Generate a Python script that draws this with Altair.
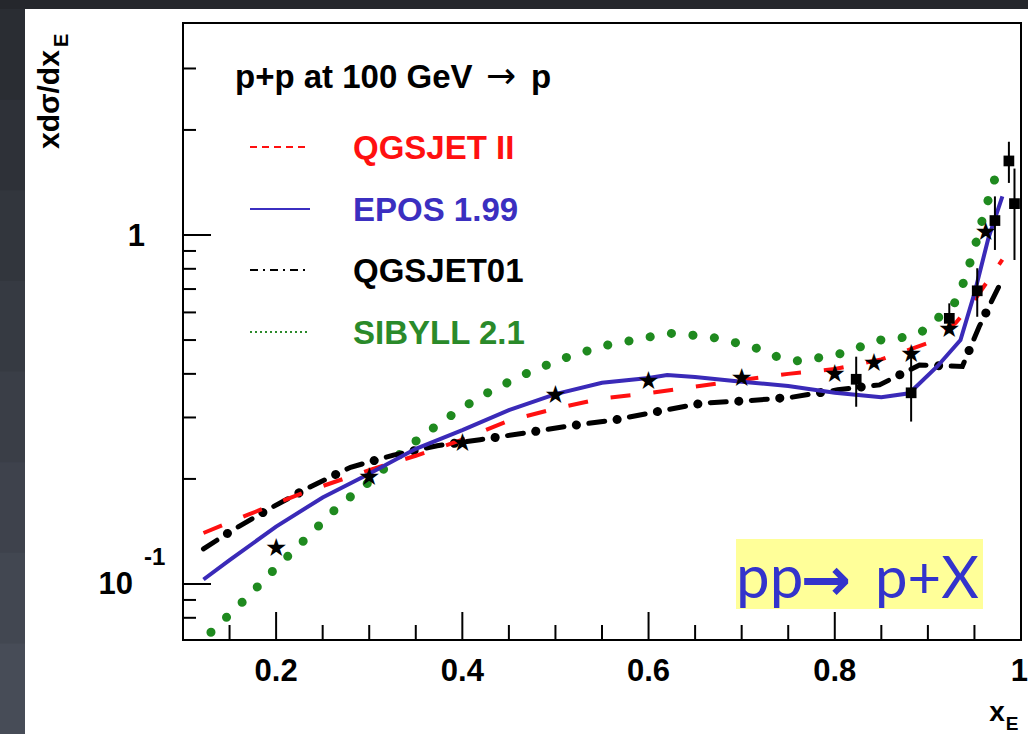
import altair as alt
import pandas as pd

W, H = 838, 617
FONT = "Liberation Sans"

x_dom = [0.1, 1.0]
y_dom = [0.0691, 4.05]

# ---- model curves ----
qgs2_x = [0.122, 0.17, 0.23, 0.3, 0.35, 0.4, 0.45, 0.5, 0.55, 0.6, 0.65, 0.7, 0.75, 0.8, 0.85, 0.9, 0.93, 0.95, 0.98]
qgs2_y = [0.140, 0.158, 0.183, 0.212, 0.233, 0.259, 0.294, 0.318, 0.34, 0.352, 0.368, 0.384, 0.40, 0.413, 0.44, 0.49, 0.56, 0.65, 0.85]

epos_x = [0.122, 0.15, 0.2, 0.25, 0.3, 0.35, 0.4, 0.45, 0.5, 0.55, 0.6, 0.62, 0.65, 0.7, 0.75, 0.8, 0.85, 0.88, 0.91, 0.935, 0.95, 0.965, 0.98]
epos_y = [0.103, 0.117, 0.146, 0.177, 0.207, 0.244, 0.276, 0.315, 0.35, 0.377, 0.389, 0.397, 0.392, 0.38, 0.369, 0.353, 0.343, 0.352, 0.42, 0.50, 0.68, 0.98, 1.29]

qgs01_x = [0.122, 0.152, 0.194, 0.237, 0.28, 0.326, 0.373, 0.419, 0.468, 0.516, 0.563, 0.61, 0.658, 0.706, 0.754, 0.803, 0.848, 0.891, 0.937, 0.955, 0.977]
qgs01_y = [0.126, 0.142, 0.165, 0.190, 0.216, 0.234, 0.249, 0.259, 0.271, 0.284, 0.295, 0.312, 0.330, 0.335, 0.343, 0.360, 0.372, 0.424, 0.42, 0.546, 0.719]

sib_x = [0.13, 0.165, 0.198, 0.232, 0.267, 0.305, 0.34, 0.378, 0.419, 0.461, 0.505, 0.551, 0.599, 0.622, 0.646, 0.67, 0.694, 0.717, 0.738, 0.762, 0.785, 0.808, 0.831, 0.855, 0.878, 0.899, 0.916, 0.932, 0.948, 0.961, 0.975]
sib_y = [0.0727, 0.0894, 0.110, 0.135, 0.167, 0.201, 0.245, 0.292, 0.344, 0.393, 0.44, 0.481, 0.509, 0.523, 0.517, 0.508, 0.491, 0.473, 0.448, 0.435, 0.446, 0.458, 0.482, 0.506, 0.509, 0.537, 0.597, 0.651, 0.877, 1.17, 1.54]

# ---- measurements ----
star_x = [0.2, 0.3, 0.4, 0.5, 0.6, 0.7, 0.8, 0.842, 0.882, 0.923, 0.962]
star_y = [0.128, 0.204, 0.256, 0.35, 0.383, 0.391, 0.401, 0.434, 0.458, 0.54, 1.03]

sq_x = [0.823, 0.882, 0.923, 0.953, 0.972, 0.987, 0.993]
sq_y = [0.386, 0.353, 0.577, 0.692, 1.10, 1.63, 1.23]
sq_lo = [0.322, 0.292, 0.523, 0.583, 0.906, 1.41, 0.848]
sq_hi = [0.448, 0.448, 0.637, 0.803, 1.29, 1.85, 1.55]

# ---- ticks / labels ----
x_major = [0.2, 0.4, 0.6, 0.8]
x_minor = [0.15, 0.25, 0.3, 0.35, 0.45, 0.5, 0.55, 0.65, 0.7, 0.75, 0.85, 0.9, 0.95]
x_labels = [0.2, 0.4, 0.6, 0.8]
x_label_text = ["0.2", "0.4", "0.6", "0.8"]
x_end_label = [1.0]
x_end_text = ["1"]
y_major = [0.1, 1.0]
y_minor = [0.08, 0.09, 0.2, 0.3, 0.4, 0.5, 0.6, 0.7, 0.8, 0.9, 2.0, 3.0]

legend_names = ["QGSJET II", "EPOS 1.99", "QGSJET01", "SIBYLL 2.1"]
legend_colors = ["#ff1010", "#3b2fc0", "#000000", "#2a8a2a"]

strip_colors = ["#2a2d33", "#2e3138", "#32363d", "#363a42", "#3a3e47", "#3e424c", "#424751", "#474c57"]

RED, BLUE, BLACK, GREEN = "#ff1010", "#3a2ab8", "#000000", "#1f8a1f"

xs = alt.Scale(domain=x_dom, nice=False, zero=False)
ys = alt.Scale(type="log", domain=y_dom, nice=False)

one = pd.DataFrame({"k": [0]})


def X(f):
    return alt.X(f, scale=xs, axis=None)


def Y(f):
    return alt.Y(f, scale=ys, axis=None)


def curve(xv, yv, **mk):
    return alt.Chart(pd.DataFrame({"x": xv, "y": yv})).mark_line(**mk).encode(x=X("x:Q"), y=Y("y:Q"))


def label(text, x, y, size, color="black", font=FONT, weight="bold", align="left",
          baseline="middle", angle=0):
    return alt.Chart(one).mark_text(
        text=text, align=align, baseline=baseline, font=font, fontWeight=weight,
        fontSize=size, color=color, angle=angle
    ).encode(x=alt.value(x), y=alt.value(y))


# backgrounds (slide frame) drawn as thick rules
bg_layers = [alt.Chart(one).mark_rule(color="#25272c", strokeWidth=9).encode(
    x=alt.value(-183), x2=alt.value(W + 7), y=alt.value(-18.5))]
band = (H + 94 + 14) / len(strip_colors)
for i, c in enumerate(strip_colors):
    bg_layers.append(alt.Chart(one).mark_rule(color=c, strokeWidth=25).encode(
        x=alt.value(-170.5),
        y=alt.value(-14 + i * band), y2=alt.value(-14 + (i + 1) * band + 1)))

# ticks
xt_major = alt.Chart(pd.DataFrame({"v": x_major})).mark_rule(color="black", strokeWidth=2).encode(
    x=X("v:Q"), y=alt.value(H), y2=alt.value(H - 28))
xt_minor = alt.Chart(pd.DataFrame({"v": x_minor})).mark_rule(color="black", strokeWidth=2).encode(
    x=X("v:Q"), y=alt.value(H), y2=alt.value(H - 15))
yt_major = alt.Chart(pd.DataFrame({"v": y_major})).mark_rule(color="black", strokeWidth=2).encode(
    y=Y("v:Q"), x=alt.value(0), x2=alt.value(28))
yt_minor = alt.Chart(pd.DataFrame({"v": y_minor})).mark_rule(color="black", strokeWidth=2).encode(
    y=Y("v:Q"), x=alt.value(0), x2=alt.value(13))

# tick labels
xlab = alt.Chart(pd.DataFrame({"v": x_labels, "t": x_label_text})).mark_text(
    align="center", baseline="middle", font=FONT, fontWeight="bold", fontSize=31, color="black"
).encode(x=X("v:Q"), y=alt.value(H + 32), text="t:N")
xlab_end = alt.Chart(pd.DataFrame({"v": x_end_label, "t": x_end_text})).mark_text(
    align="right", baseline="middle", font=FONT, fontWeight="bold", fontSize=31, color="black", dx=7
).encode(x=X("v:Q"), y=alt.value(H + 32), text="t:N")
ylab_one = alt.Chart(pd.DataFrame({"v": [1.0], "t": ["1"]})).mark_text(
    align="right", baseline="middle", font=FONT, fontWeight="bold", fontSize=31, color="black", dy=2
).encode(y=Y("v:Q"), x=alt.value(-38), text="t:N")
ylab_ten = alt.Chart(pd.DataFrame({"v": [0.1], "t": ["10"]})).mark_text(
    align="right", baseline="middle", font=FONT, fontWeight="bold", fontSize=31, color="black", dy=1
).encode(y=Y("v:Q"), x=alt.value(-50), text="t:N")
ylab_exp = alt.Chart(pd.DataFrame({"v": [0.1], "t": ["-1"]})).mark_text(
    align="left", baseline="middle", font=FONT, fontWeight="bold", fontSize=24, color="black", dy=-26
).encode(y=Y("v:Q"), x=alt.value(-39), text="t:N")

# axis titles
ytitle = label("xdσ/dx", -133, 126, 30, angle=270)
ytitle_sub = label("E", -121, 24, 20, angle=270)
xtitle = label("x", 814, 698, 28, align="center", baseline="alphabetic")
xtitle_sub = label("E", 829, 707, 19, align="center", baseline="alphabetic")

# curves
c_sib = curve(sib_x, sib_y, color=GREEN, strokeWidth=9, strokeDash=[0.1, 21.5], strokeCap="round")
c_q01 = curve(qgs01_x, qgs01_y, color=BLACK, strokeWidth=5, strokeDash=[16, 25.1], strokeCap="round")
c_q01_dots = curve(qgs01_x, qgs01_y, color=BLACK, strokeWidth=9, strokeDash=[0.1, 41.0],
                   strokeDashOffset=12.6, strokeCap="round")
c_q2 = curve(qgs2_x, qgs2_y, color=RED, strokeWidth=4, strokeDash=[20, 23])
c_epos = curve(epos_x, epos_y, color=BLUE, strokeWidth=4)

# data points
stars = alt.Chart(pd.DataFrame({"x": star_x, "y": star_y, "s": ["★"] * len(star_x)})).mark_text(
    font="DejaVu Sans", fontSize=25, color="black", baseline="middle", align="center", dy=1
).encode(x=X("x:Q"), y=Y("y:Q"), text="s:N")

sqdf = pd.DataFrame({"x": sq_x, "y": sq_y, "lo": sq_lo, "hi": sq_hi})
errs = alt.Chart(sqdf).mark_rule(color="black", strokeWidth=2).encode(
    x=X("x:Q"), y=Y("lo:Q"), y2="hi:Q")
squares = alt.Chart(sqdf).mark_square(color="black", size=115, opacity=1).encode(
    x=X("x:Q"), y=Y("y:Q"))

# legend header: "p+p at 100 GeV → p"
header = [
    label("p+p at 100 GeV", 52, 55, 33),
    label("→", 303, 54, 36, font="DejaVu Sans", weight="normal"),
    label("p", 348, 55, 33),
]

legend_rows = [124, 186, 247, 309]
leg_dashes = [[7, 5], [60, 1], [8, 5, 2, 5], [2, 3]]
legend_layers = []
for name, col, yy, dash in zip(legend_names, legend_colors, legend_rows, leg_dashes):
    legend_layers.append(alt.Chart(one).mark_rule(color=col, strokeWidth=2, strokeDash=dash).encode(
        x=alt.value(67), x2=alt.value(127), y=alt.value(yy)))
    legend_layers.append(label(name, 170, yy + 2, 33, color=col))

# annotation "pp→ p+X"
ann_box = alt.Chart(one).mark_rule(color="#ffff99", strokeWidth=70).encode(
    x=alt.value(553), x2=alt.value(800), y=alt.value(551))
ANN = "#3333cc"
ann_text = [
    label("pp", 553, 575, 60, color=ANN, font="Lato", weight="normal", baseline="alphabetic"),
    label("→", 618, 577, 60, color=ANN, font="DejaVu Sans", weight="bold", baseline="alphabetic"),
    label("p+X", 692, 575, 58, color=ANN, font="Lato", weight="normal", baseline="alphabetic"),
]

chart = alt.layer(
    *bg_layers,
    ann_box, *ann_text,
    xt_major, xt_minor, yt_major, yt_minor,
    xlab, xlab_end, ylab_one, ylab_ten, ylab_exp,
    ytitle, ytitle_sub, xtitle, xtitle_sub,
    c_sib, c_q01, c_q01_dots, c_q2, c_epos,
    errs, squares, stars,
    *header, *legend_layers,
).properties(
    width=W, height=H,
    autosize=alt.AutoSizeParams(type="none"),
    padding={"left": 183, "top": 23, "right": 7, "bottom": 94},
).configure(background="white").configure_view(stroke="black", strokeWidth=2)

chart.save("out.html", embed_options={"renderer": "svg", "actions": False})
